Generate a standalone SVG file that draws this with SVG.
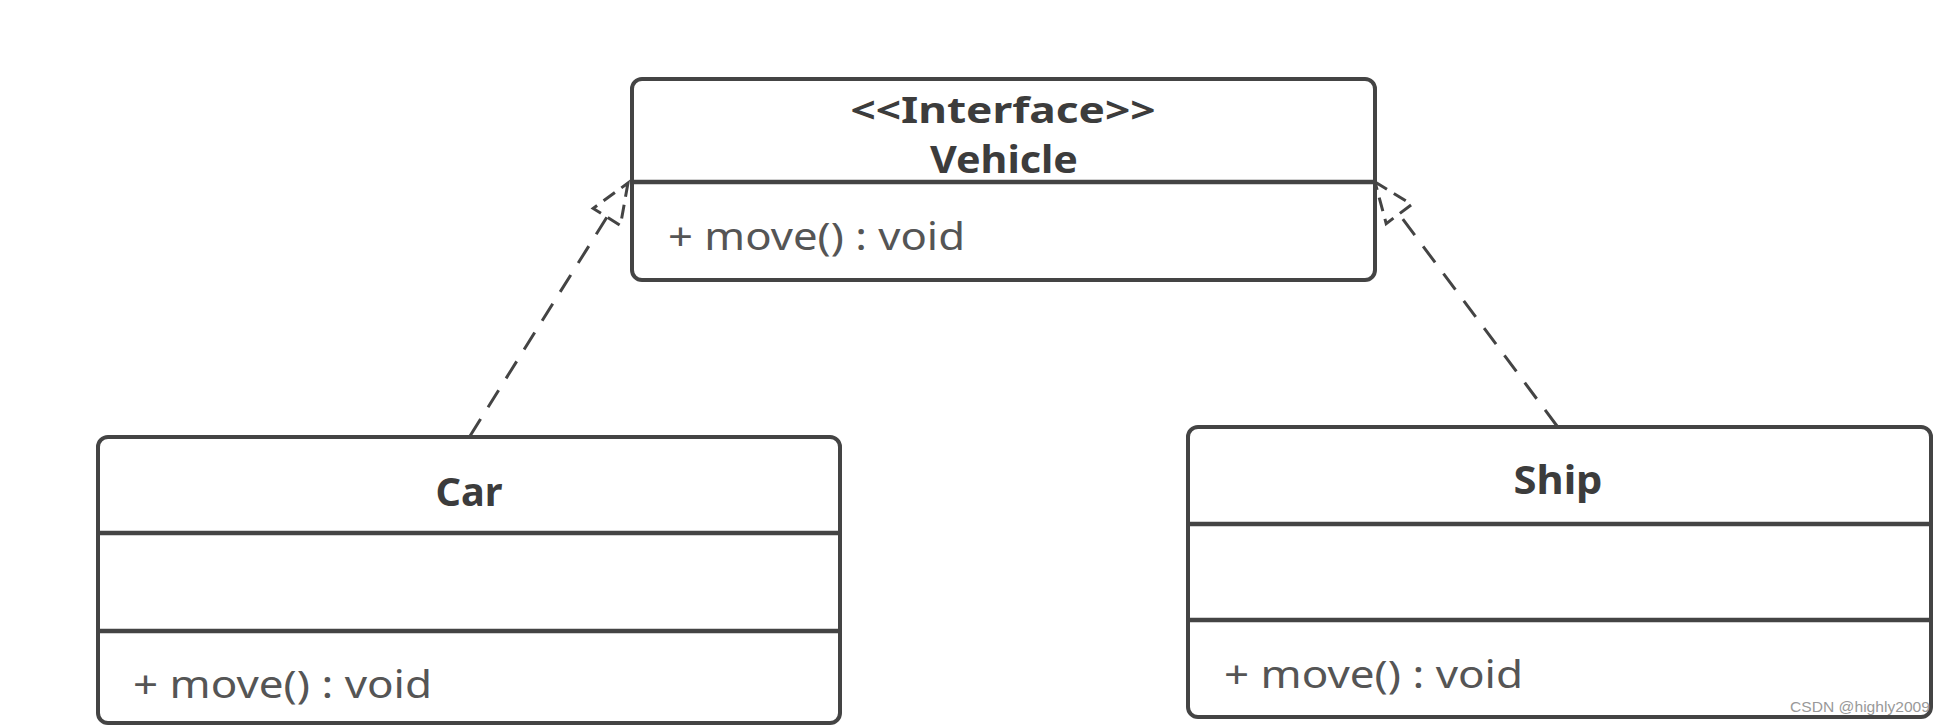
<svg xmlns="http://www.w3.org/2000/svg" width="1945" height="726" viewBox="0 0 1945 726">
<style>
.box{fill:#fff;stroke:#444;stroke-width:4}
.div{stroke:#444;stroke-width:4.5}
.title{font-family:"Noto Sans","DejaVu Sans",sans-serif;font-weight:bold;fill:#3c3c3c;text-anchor:middle}
.op{font-family:"Noto Sans","DejaVu Sans",sans-serif;fill:#555;font-size:38px}
.dep{fill:none;stroke:#444;stroke-width:3;stroke-dasharray:20 14}
.head{fill:#fff;stroke:#444;stroke-width:3;stroke-dasharray:14 8}
.wm{font-family:"Liberation Sans",sans-serif;font-size:15px;fill:#999}
</style>
<rect width="1945" height="726" fill="#fff"/>
<g id="connectors">
<line class="dep" x1="470" y1="436" x2="607" y2="217"/>
<polygon class="head" points="628,183 620.4,225.4 593.2,208.4"/>
<line class="dep" x1="1557" y1="426" x2="1399" y2="214"/>
<polygon class="head" points="1375,182 1411.8,204.4 1386.2,223.6"/>
</g>
<g id="vehicle">
<rect class="box" x="632" y="79" width="743" height="201" rx="10"/>
<line class="div" x1="632" y1="182" x2="1375" y2="182"/>
<text class="title" x="1003" y="123" font-size="36" textLength="305" lengthAdjust="spacingAndGlyphs">&lt;&lt;Interface&gt;&gt;</text>
<text class="title" x="1004" y="173" font-size="37" textLength="148" lengthAdjust="spacingAndGlyphs">Vehicle</text>
<text class="op" x="668" y="250" textLength="297" lengthAdjust="spacingAndGlyphs">+ move() : void</text>
</g>
<g id="car">
<rect class="box" x="98" y="437" width="742" height="286" rx="10"/>
<line class="div" x1="98" y1="533" x2="840" y2="533"/>
<line class="div" x1="98" y1="631" x2="840" y2="631"/>
<text class="title" x="469" y="506" font-size="40" textLength="67" lengthAdjust="spacingAndGlyphs">Car</text>
<text class="op" x="133" y="698" textLength="299" lengthAdjust="spacingAndGlyphs">+ move() : void</text>
</g>
<g id="ship">
<rect class="box" x="1188" y="427" width="743" height="290" rx="10"/>
<line class="div" x1="1188" y1="524" x2="1931" y2="524"/>
<line class="div" x1="1188" y1="620" x2="1931" y2="620"/>
<text class="title" x="1558" y="494" font-size="40" textLength="89" lengthAdjust="spacingAndGlyphs">Ship</text>
<text class="op" x="1224" y="688" textLength="299" lengthAdjust="spacingAndGlyphs">+ move() : void</text>
</g>
<text class="wm" x="1790" y="712" textLength="140" lengthAdjust="spacingAndGlyphs">CSDN @highly2009</text>
</svg>
